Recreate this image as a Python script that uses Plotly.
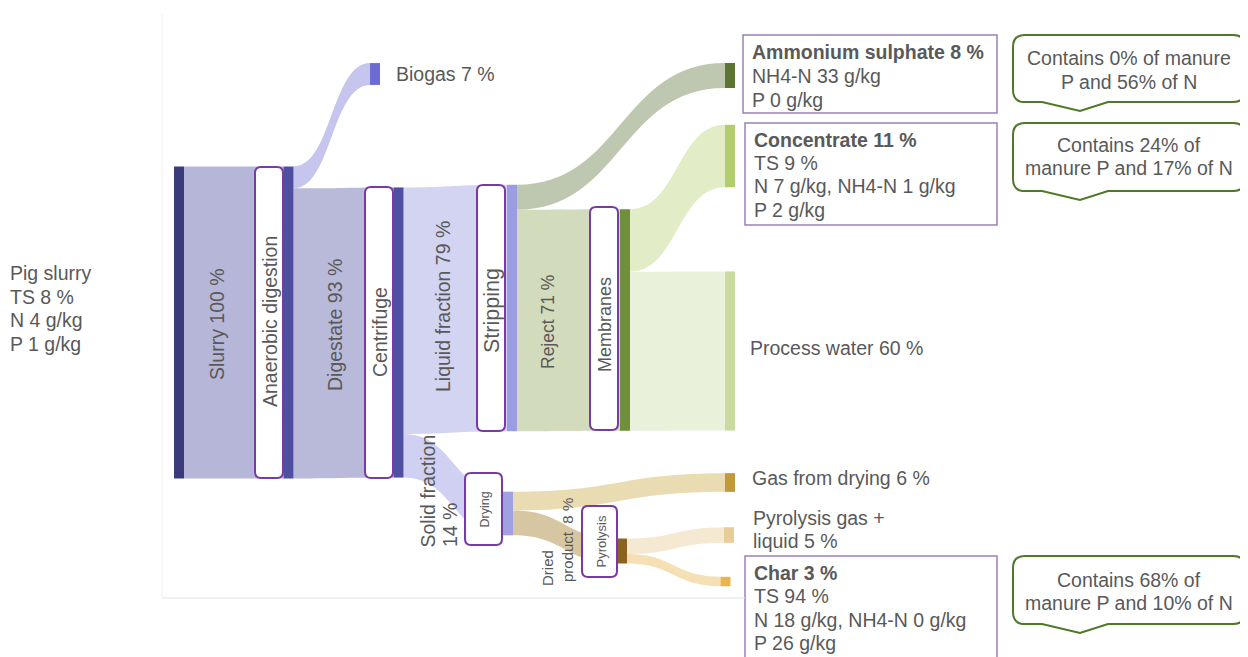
import plotly.graph_objects as go

W, H = 1248, 657
OFF = 8  # the page body margin shifts the figure by 8 px
FONT = "Liberation Sans, Arial, sans-serif"
GREY = "#595959"

# sankey data (percent of slurry mass)
node_names = ["Slurry", "Anaerobic digestion", "Biogas", "Centrifuge", "Stripping",
              "Drying", "Ammonium sulphate", "Membranes", "Concentrate",
              "Process water", "Gas from drying", "Pyrolysis",
              "Pyrolysis gas + liquid", "Char"]
node_colors = ["#3b3b7c", "#4f4fa0", "#6b6bd2", "#5050a3", "#9c9ce0", "#a0a0e2",
               "#5c7532", "#6f8f3a", "#b2cd6e", "#c9dca0", "#c09a38", "#8a6322",
               "#e9cd98", "#e9b54a"]
link_source = [0, 1, 1, 3, 3, 4, 4, 7, 7, 5, 5, 11, 11]
link_target = [1, 2, 3, 4, 5, 6, 7, 8, 9, 10, 11, 12, 13]
link_value = [100, 7, 93, 79, 14, 8, 71, 20, 51, 6, 8, 5, 3]
link_colors = ["#b6b6d8", "#c5c5ee", "#b9b9da", "#d3d3f2", "#cfd0f2", "#bec8b0",
               "#d2dcbc", "#e2edc8", "#e9f1da", "#e9dbb2", "#d6c6a2", "#f5e9d2",
               "#f4e0b2"]

# text
feed_text = ["Pig slurry", "TS 8 %", "N 4 g/kg", "P 1 g/kg"]
flow_labels = ["Slurry 100 %", "Digestate 93 %", "Liquid fraction 79 %", "Reject 71 %"]
process_labels = ["Anaerobic digestion", "Centrifuge", "Stripping", "Membranes", "Drying", "Pyrolysis"]
product_titles = ["Ammonium sulphate 8 %", "Concentrate 11 %", "Char 3 %"]
product_details = [["NH4-N 33 g/kg", "P 0 g/kg"],
                   ["TS 9 %", "N 7 g/kg, NH4-N 1 g/kg", "P 2 g/kg"],
                   ["TS 94 %", "N 18 g/kg, NH4-N 0 g/kg", "P 26 g/kg"]]
callout_texts = [["Contains 0% of manure", "P and 56% of N"],
                 ["Contains 24% of", "manure P and 17% of N"],
                 ["Contains 68% of", "manure P and 10% of N"]]
outlet_labels = ["Biogas 7 %", "Process water 60 %", "Gas from drying 6 %"]
pyro_gas_lines = ["Pyrolysis gas +", "liquid 5 %"]


def X(px):
    return (px - OFF) / W


def Y(py):
    return 1 - (py - OFF) / H


# node centres, pixels
node_cx = [179, 288.5, 375, 398.5, 512, 508, 730, 625, 730, 730, 730, 622, 729, 725.5]
node_cy = [322.5, 322.5, 74, 332.5, 308, 513.5, 75.5, 320, 156, 351, 482.5, 551, 535, 581.5]

fig = go.Figure()
fig.add_trace(go.Sankey(
    arrangement="fixed",
    domain=dict(x=[0, 1], y=[0, 1]),
    node=dict(label=[""] * len(node_names), customdata=node_names,
              hovertemplate="%{customdata}<extra></extra>",
              pad=57.5, thickness=10, color=node_colors, line=dict(width=0),
              x=[(c - OFF) / W for c in node_cx], y=[(c - OFF) / H for c in node_cy]),
    link=dict(source=link_source, target=link_target, value=link_value,
              color=link_colors, hoverinfo="none"),
))

ann = []
shapes = []


def note(text, x, y, size=19.5, xanchor="left", yanchor="middle", align="left", angle=0, **kw):
    ann.append(dict(text=text, x=X(x), y=Y(y), xref="paper", yref="paper",
                    xanchor=xanchor, yanchor=yanchor, align=align, textangle=angle,
                    showarrow=False, font=dict(family=FONT, size=size, color=GREY), **kw))


def path_of(pts):
    out = []
    for p in pts:
        vals = p[1:]
        coords = " ".join("%.5f,%.5f" % (X(vals[i]), Y(vals[i + 1])) for i in range(0, len(vals), 2))
        out.append(p[0] + coords)
    return " ".join(out) + " Z"


def round_rect(x0, y0, x1, y1, r):
    return path_of([("M", x0 + r, y0), ("L", x1 - r, y0), ("Q", x1, y0, x1, y0 + r),
                    ("L", x1, y1 - r), ("Q", x1, y1, x1 - r, y1), ("L", x0 + r, y1),
                    ("Q", x0, y1, x0, y1 - r), ("L", x0, y0 + r), ("Q", x0, y0, x0 + r, y0)])


def callout_path(x0, y0, x1, y1, r, bx0, bx1, ax, ay):
    return path_of([("M", x0 + r, y0), ("L", x1 - r, y0), ("Q", x1, y0, x1, y0 + r),
                    ("L", x1, y1 - r), ("Q", x1, y1, x1 - r, y1), ("L", bx1, y1), ("L", ax, ay),
                    ("L", bx0, y1), ("L", x0 + r, y1), ("Q", x0, y1, x0, y1 - r),
                    ("L", x0, y0 + r), ("Q", x0, y0, x0 + r, y0)])


for line, y in zip(feed_text, [273, 297, 320, 344]):
    note(line, 8, y)

# rotated flow labels
flow_pos = [(217, 324, 19.5), (335, 325, 19.5), (443, 307, 19.5), (548, 322, 17.5)]
for txt, (x, y, fs) in zip(flow_labels, flow_pos):
    note(txt, x, y, fs, xanchor="center", angle=-90)
note("Solid fraction", 427, 549, 19.5, xanchor="center", yanchor="bottom", angle=-90)
note("14 %", 450, 549, 19.5, xanchor="center", yanchor="bottom", angle=-90)
note("Dried", 547, 588, 15, xanchor="center", yanchor="bottom", angle=-90)
note("product  8 %", 567, 584, 15, xanchor="center", yanchor="bottom", angle=-90)

# process boxes
boxes = [(255, 283, 167, 478, 19.5, 322), (365, 393, 187, 478, 19.5, 332),
         (477, 505, 185, 431, 21.5, 311), (590, 618, 207, 430, 18, 325),
         (465, 502, 473, 545, 12.5, 509), (582, 617, 506, 577, 13, 541)]
for txt, (x0, x1, y0, y1, fs, ty) in zip(process_labels, boxes):
    shapes.append(dict(type="path", xref="paper", yref="paper", layer="above",
                       path=round_rect(x0, y0, x1, y1, 6),
                       line=dict(color="#7a3aa6", width=2), fillcolor="white"))
    note(txt, (x0 + x1) / 2 + 1, ty, fs, xanchor="center", align="center", angle=-90)

# outlet labels
for txt, (x, y) in zip(outlet_labels, [(394, 74), (748, 348), (750, 478)]):
    note(txt, x, y)
for line, y in zip(pyro_gas_lines, [518, 541]):
    note(line, 751, y)

# product boxes
prod_boxes = [(743, 997, 35, 113, 750, [52, 76, 100]),
              (745, 997, 123, 225, 752, [140, 163, 186, 210]),
              (745, 997, 556, 670, 752, [573, 596, 620, 643])]
for title, det, (x0, x1, y0, y1, tx, ys) in zip(product_titles, product_details, prod_boxes):
    shapes.append(dict(type="rect", xref="paper", yref="paper", x0=X(x0), x1=X(x1),
                       y0=Y(y0), y1=Y(y1), line=dict(color="#9b80b8", width=1.5),
                       fillcolor="white", layer="below"))
    for line, y in zip(["<b>" + title + "</b>"] + det, ys):
        note(line, tx, y)

# callouts with a pointer at the bottom
call_boxes = [(35, 102, 111, [58, 82]), (123, 191, 200, [145, 168]), (556, 624, 633, [580, 603])]
for lines, (y0, y1, ay, ys) in zip(callout_texts, call_boxes):
    shapes.append(dict(type="path", xref="paper", yref="paper",
                       path=callout_path(1013, y0, 1245, y1, 12, 1042, 1108, 1080, ay),
                       line=dict(color="#4e7a27", width=2), fillcolor="white"))
    for line, y in zip(lines, ys):
        note(line, 1129, y, xanchor="center", align="center")

# faint frame of the original picture
shapes.append(dict(type="line", xref="paper", yref="paper", x0=X(162), x1=X(162),
                   y0=Y(14), y1=Y(598), line=dict(color="#f0f0f0", width=1), layer="below"))
shapes.append(dict(type="line", xref="paper", yref="paper", x0=X(162), x1=X(745),
                   y0=Y(598), y1=Y(598), line=dict(color="#e2e2e2", width=1.2), layer="below"))

fig.update_layout(width=W, height=H, margin=dict(l=0, r=0, t=0, b=0),
                  paper_bgcolor="white", plot_bgcolor="white",
                  font=dict(family=FONT, color=GREY),
                  annotations=ann, shapes=shapes)

fig.write_html("out.html")
